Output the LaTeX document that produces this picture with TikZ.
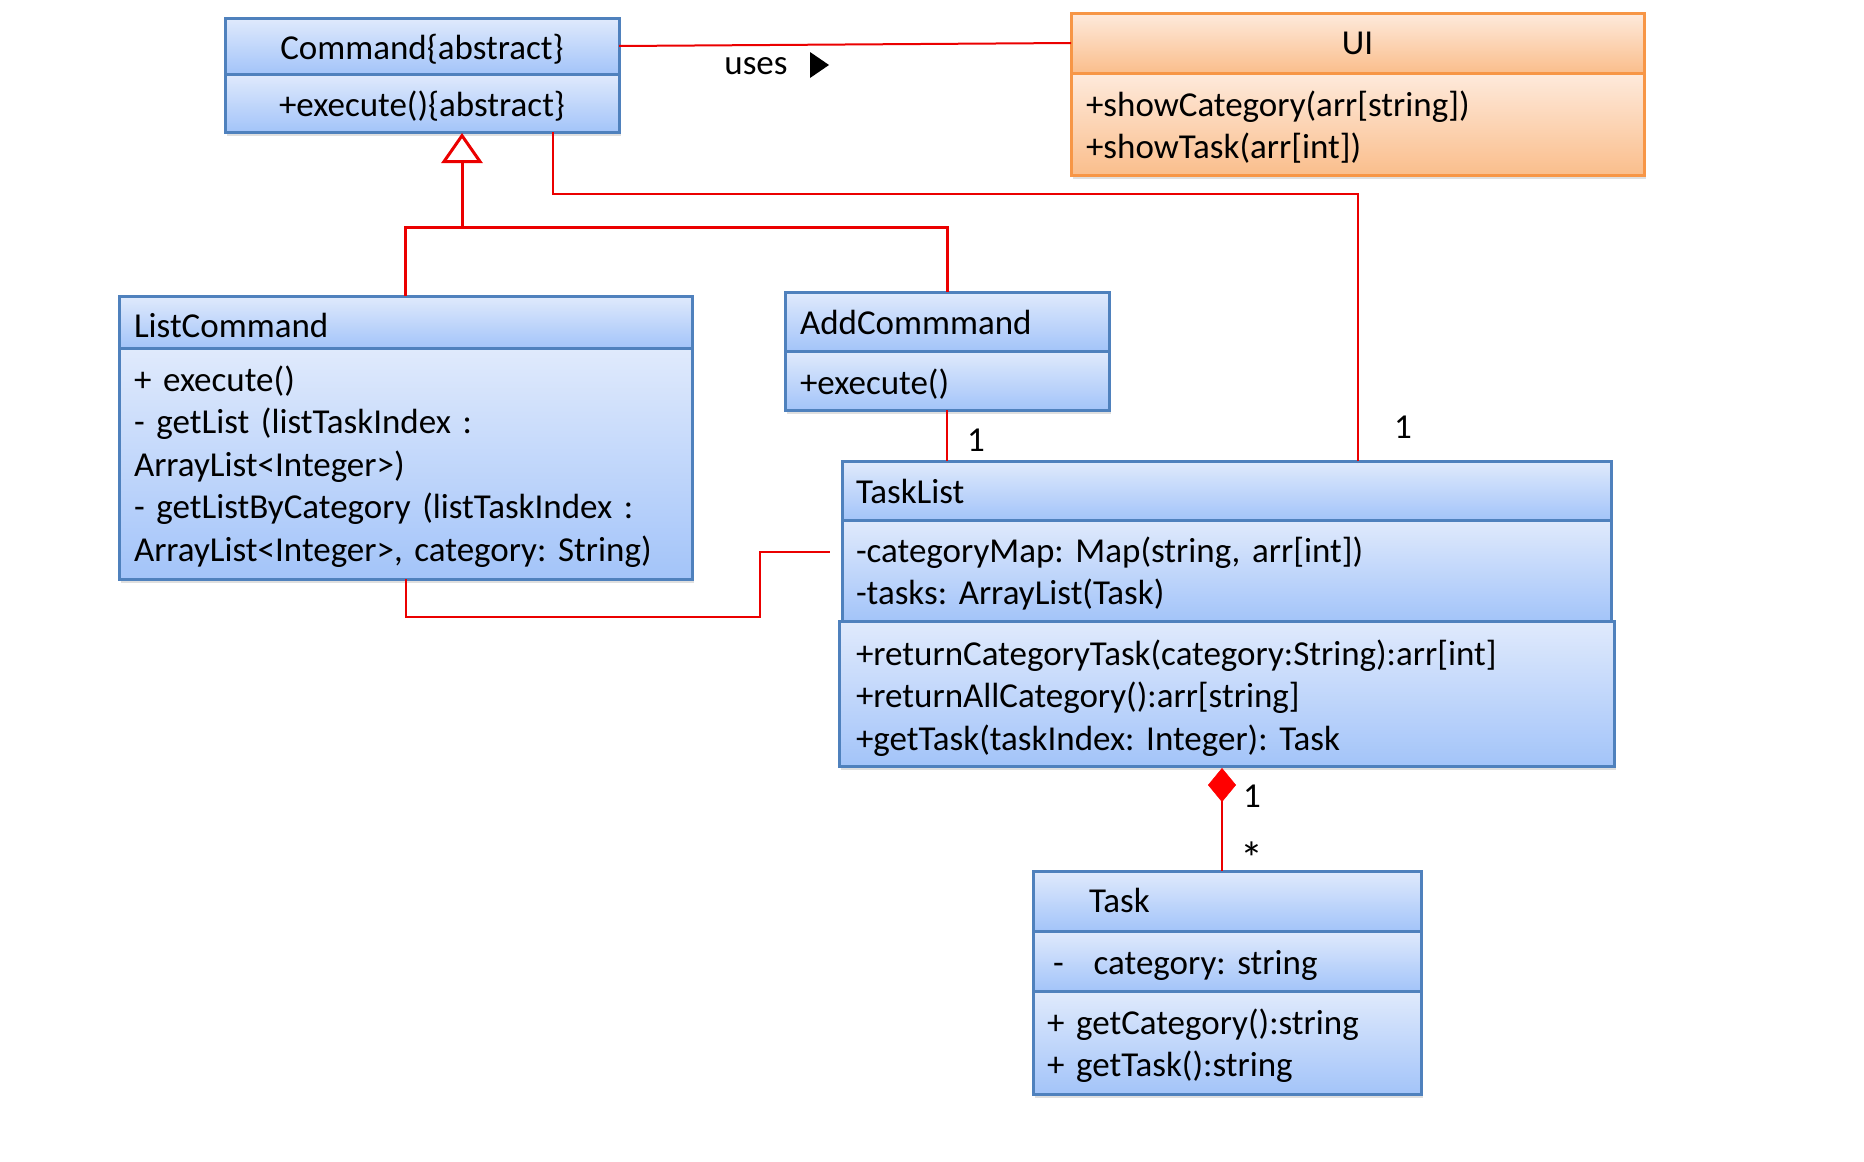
\documentclass[tikz,border=0pt]{standalone}
\usepackage{fontspec}
\setmainfont{Carlito}
\frenchspacing
\usetikzlibrary{arrows.meta,shadows}
\definecolor{clsborder}{RGB}{79,129,189}
\definecolor{clstop}{RGB}{224,234,252}
\definecolor{clsbot}{RGB}{163,196,249}
\definecolor{uiborder}{RGB}{247,150,70}
\definecolor{uitop}{RGB}{254,234,220}
\definecolor{uibot}{RGB}{250,190,140}
\definecolor{linkred}{RGB}{235,0,0}
\tikzset{
  cls/.style={draw=clsborder, line width=3pt, top color=clstop, bottom color=clsbot,
    anchor=north west, inner xsep=14pt, inner ysep=0pt, outer sep=0pt, align=left,
    text height=32pt,
    font=\fontsize{35}{42.5}\selectfont\frenchspacing,
    drop shadow={shadow xshift=2pt, shadow yshift=-4pt, opacity=0.25}},
  uicls/.style={cls, draw=uiborder, top color=uitop, bottom color=uibot},
  assoc/.style={draw=linkred, line width=2pt},
  inh/.style={draw=linkred, line width=3pt},
  lbl/.style={font=\fontsize{35}{42}\selectfont, inner sep=0pt},
}
\begin{document}
\begin{tikzpicture}[x=1pt,y=-1pt]
\useasboundingbox (0,0) rectangle (1864,1162);

% Command
\node[cls, align=center, text width=366pt, minimum height=56pt] (cmdT) at (225,18) {Command\{abstract\}};
\node[cls, align=center, text width=366pt, minimum height=58pt] (cmdM) at (225,74) {+execute()\{abstract\}};

% UI
\node[uicls, align=center, text width=545pt, minimum height=60pt, text height=24pt] (uiT) at (1071,13) {UI};
\node[uicls, inner xsep=15pt, text width=543pt, minimum height=102pt] (uiM) at (1071,73) {+showCategory(arr[string])\\+showTask(arr[int])};

% ListCommand
\node[cls, inner xsep=15pt, text width=543pt, minimum height=52pt] (lcT) at (119,296) {ListCommand};
\node[cls, inner xsep=15pt, text width=543pt, minimum height=231pt] (lcM) at (119,348) {+ execute()\\- getList (listTaskIndex :\\ArrayList<Integer>)\\- getListByCategory (listTaskIndex :\\ArrayList<Integer>, category: String)};

% AddCommmand
\node[cls, inner xsep=15pt, text width=294pt, minimum height=59pt, text height=27pt] (addT) at (785,292) {AddCommmand};
\node[cls, inner xsep=15pt, text width=294pt, minimum height=59pt] (addM) at (785,351) {+execute()};

% TaskList
\node[cls, text width=741pt, minimum height=59pt, text height=27pt] (tlT) at (842,461) {TaskList};
\node[cls, text width=741pt, minimum height=101pt] (tlA) at (842,520) {-categoryMap: Map(string, arr[int])\\-tasks: ArrayList(Task)};
\node[cls, inner xsep=17pt, text width=741pt, minimum height=145pt, text height=35pt] (tlM) at (839,621) {+returnCategoryTask(category:String):arr[int]\\+returnAllCategory():arr[string]\\+getTask(taskIndex: Integer): Task};

% Task
\node[cls, text width=360pt, minimum height=60pt, text height=24pt] (taskT) at (1033,871) {\hspace*{42pt}Task};
\node[cls, inner xsep=20pt, text width=348pt, minimum height=60pt] (taskA) at (1033,931) {-\hspace{30pt}category: string};
\node[cls, text width=360pt, minimum height=103pt] (taskM) at (1033,991) {+ getCategory():string\\+ getTask():string};

% Command -- UI (uses)
\draw[assoc] (cmdT.east) -- (uiT.west);
\node[lbl] (uses) at (756,66) {uses};
\fill (810,52) -- (829,65) -- (810,78) -- cycle;

% Inheritance
\coordinate (j) at (462,227);
\coordinate (inhtip) at (462,133);
\draw[inh] (lcT.north) |- (j);
\draw[inh] (addT.north) |- (j);
\draw[inh, -{Triangle[open, length=30pt, width=41pt, line width=3pt, fill=white]}] (j) -- (inhtip);

% Command -- TaskList
\coordinate (c1) at (553,194);
\coordinate (c2) at (1358,194);
\draw[assoc] (cmdM.south -| c1) -- (c1) -- (c2) -- (tlT.north -| c2);
\node[lbl] (m1) at (1403,427) {1};

% AddCommmand -- TaskList
\draw[assoc] (addM.south) -- (tlT.north -| addM.south);
\node[lbl] (m2) at (976,440) {1};

% ListCommand -- TaskList
\coordinate (l1) at (760,617);
\coordinate (l2) at (760,552);
\coordinate (tlfree) at (830,552);
\draw[assoc] (lcM.south) |- (l1) -- (l2) -- (tlfree);

% Composition TaskList -- Task
\coordinate (d1) at (1222,768);
\draw[assoc, {Diamond[length=34pt, width=28pt, fill=red, color=red, line width=0.5pt]}-] (d1) -- (taskT.north -| d1);
\node[lbl] (m3) at (1252,796) {1};
\node[lbl, font=\fontsize{46}{46}\selectfont] (m4) at (1252,858) {*};
\end{tikzpicture}
\end{document}
